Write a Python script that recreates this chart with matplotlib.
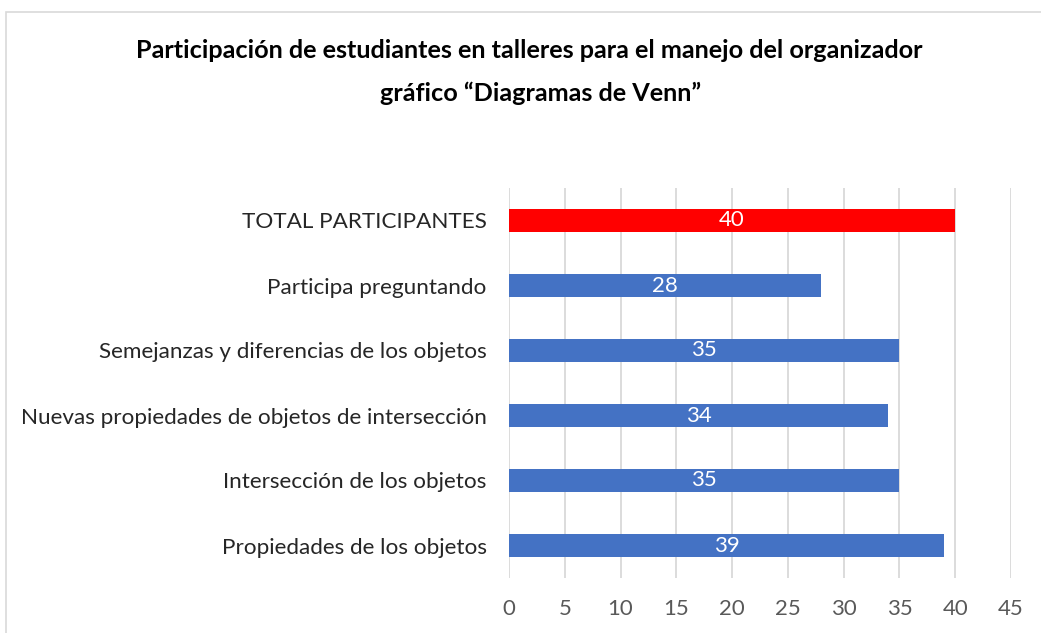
import matplotlib
matplotlib.use("Agg")
import matplotlib.pyplot as plt
from matplotlib.patches import Rectangle

# datos (de abajo hacia arriba)
categorias = ["Propiedades de los objetos",
              "Intersección de los objetos",
              "Nuevas propiedades de objetos de intersección",
              "Semejanzas y diferencias de los objetos",
              "Participa preguntando",
              "TOTAL PARTICIPANTES"]
valores = [39, 35, 34, 35, 28, 40]
colores = ["#4472C4"] * 5 + ["#FF0000"]

plt.rcParams['font.family'] = ['Lato', 'DejaVu Sans']

fig = plt.figure(figsize=(10.41, 6.33), dpi=100)
ax = fig.add_axes([509/1041, 55/633, 502/1041, 390/633])

# borde del area del grafico
fig.patches.append(Rectangle((6/1041, -0.1), 1.2, (621/633) + 0.1, transform=fig.transFigure,
                             fill=False, edgecolor="#D9D9D9", linewidth=1.2))

pos = range(len(categorias))
barras = ax.barh(pos, valores, height=0.35, color=colores, zorder=2)
for b, v in zip(barras, valores):
    ax.text(v / 2, b.get_y() + b.get_height() / 2, str(v), color="white",
            ha="center", va="center", fontsize=16, zorder=3)

ax.set_xlim(0, 45)
ax.set_ylim(-0.5, len(categorias) - 0.5)
ax.set_xticks(range(0, 46, 5))
ax.set_yticks(list(pos))
ax.set_yticklabels(categorias, fontsize=16.2, color="#262626")
ax.tick_params(axis="x", labelsize=16, colors="#595959", length=0, pad=15)
ax.tick_params(axis="y", length=0, pad=16)
ax.grid(axis="x", color="#D9D9D9", linewidth=1.3, zorder=0)
for s in ax.spines.values():
    s.set_visible(False)

fig.text(529/1041, 1 - 50/633, "Participación de estudiantes en talleres para el manejo del organizador",
         ha="center", va="center", fontsize=18.2, fontweight="bold")
fig.text(541/1041, 1 - 93/633, "gráfico “Diagramas de Venn”",
         ha="center", va="center", fontsize=18.2, fontweight="bold")

fig.savefig("out.png", dpi=100)
